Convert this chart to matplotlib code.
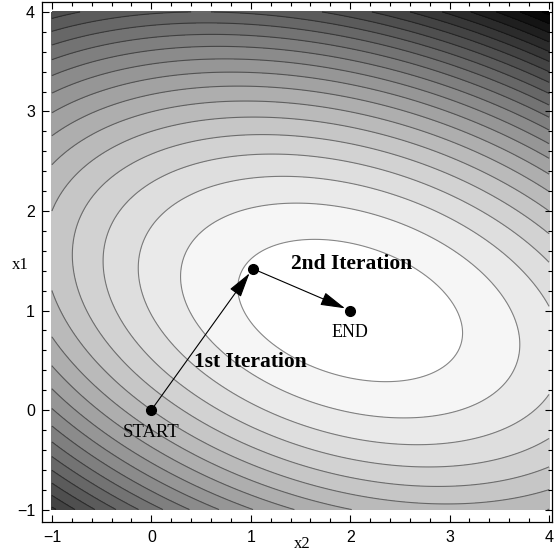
import numpy as np
import matplotlib
matplotlib.use("Agg")
import matplotlib.pyplot as plt
from matplotlib.ticker import MultipleLocator

# Quadratic objective (x = x2 on horizontal axis, y = x1 on vertical axis)
center = [2.0, 1.0]
coef_a, coef_b, coef_c = 1.0, 2.5, 1.0
levels = list(np.arange(1.15, 32.4, 1.47))

# iteration path
path_x = [0.0, 1.02, 2.0]
path_y = [0.0, 1.42, 1.0]
point_labels = ["START", "END"]
iter_labels = ["1st Iteration", "2nd Iteration"]
xticks = [-1, 0, 1, 2, 3, 4]
yticks = [-1, 0, 1, 2, 3, 4]

fig = plt.figure(figsize=(5.55, 5.56), dpi=100)
ax = fig.add_axes([42/555, (556-521.5)/556, (552-42)/555, (521.5-2)/556])

xs = np.linspace(-1, 4, 400)
ys = np.linspace(-1, 4, 400)
X, Y = np.meshgrid(xs, ys)
U, V = X - center[0], Y - center[1]
Z = coef_a*U**2 + coef_b*V**2 + coef_c*U*V
zmax = float(Z.max())

lv = [l for l in levels if l < zmax]
fill_levels = [-1.0] + lv + [zmax + 1]
cols = []
for i in range(len(fill_levels)-1):
    g = max(0.0, 1.0 - max(fill_levels[i], 0) / (zmax - 1.0))
    cols.append((g, g, g))
ax.contourf(X, Y, Z, levels=fill_levels, colors=cols)
ax.contour(X, Y, Z, levels=lv, colors=[(0, 0, 0, 0.45)], linewidths=0.8)

# arrows
for i in range(2):
    ax.annotate("", xy=(path_x[i+1], path_y[i+1]), xytext=(path_x[i], path_y[i]),
                arrowprops=dict(arrowstyle="-|>,head_length=1.1,head_width=0.3", color="black",
                                lw=0.8, shrinkA=0, shrinkB=4, mutation_scale=14))
ax.plot(path_x, path_y, "o", color="black", markersize=7, zorder=5)

serif = "Liberation Serif"
ax.text(0.0, -0.23, point_labels[0], ha="center", va="center", family=serif, fontsize=13.5)
ax.text(2.0, 0.78, point_labels[1], ha="center", va="center", family=serif, fontsize=13)
ax.text(1.0, 0.48, iter_labels[0], ha="center", va="center", family=serif,
        fontsize=15.5, fontweight="bold")
ax.text(2.01, 1.47, iter_labels[1], ha="center", va="center", family=serif,
        fontsize=15.5, fontweight="bold")

ax.set_xlim(-1.1, 4.03)
ax.set_ylim(-1.12, 4.1)
ax.set_xticks(xticks)
ax.set_yticks(yticks)
ax.set_xticklabels([("\u2212" + str(-t)) if t < 0 else str(t) for t in xticks],
                   family="Liberation Sans", fontsize=11.5)
ax.set_yticklabels([("\u2212" + str(-t)) if t < 0 else str(t) for t in yticks],
                   family="Liberation Sans", fontsize=11.5)
ax.xaxis.set_minor_locator(MultipleLocator(0.2))
ax.yaxis.set_minor_locator(MultipleLocator(0.2))
ax.tick_params(which="both", direction="in", top=True, right=True, width=0.8)
ax.tick_params(which="major", length=5)
ax.tick_params(axis="x", which="major", pad=6)
ax.tick_params(axis="y", which="major", pad=5)
ax.tick_params(which="minor", length=3)
for s in ax.spines.values():
    s.set_linewidth(0.9)

fig.text(302/555, 1 - 544/556, "x2", ha="center", va="center", family=serif, fontsize=12)
fig.text(20/555, 1 - 265/556, "x1", ha="center", va="center", family=serif, fontsize=12)

fig.savefig("out.png", dpi=100)
